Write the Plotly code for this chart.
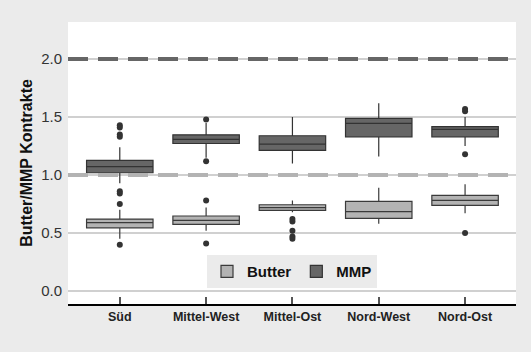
import plotly.graph_objects as go

regions = ["Süd", "Mittel-West", "Mittel-Ost", "Nord-West", "Nord-Ost"]

# Butter box statistics
butter_q1 = [0.545, 0.575, 0.696, 0.627, 0.739]
butter_median = [0.589, 0.610, 0.720, 0.684, 0.782]
butter_q3 = [0.620, 0.647, 0.744, 0.773, 0.825]
butter_low = [0.45, 0.52, 0.68, 0.58, 0.67]
butter_high = [0.70, 0.72, 0.78, 0.89, 0.92]
butter_out_x = ["Süd", "Süd", "Süd", "Süd", "Mittel-West", "Mittel-West",
                "Mittel-Ost", "Mittel-Ost", "Mittel-Ost", "Mittel-Ost", "Mittel-Ost", "Nord-Ost"]
butter_out_y = [0.86, 0.84, 0.75, 0.40, 0.78, 0.41,
                0.62, 0.60, 0.52, 0.47, 0.45, 0.50]

# MMP box statistics
mmp_q1 = [1.020, 1.272, 1.213, 1.330, 1.330]
mmp_median = [1.072, 1.307, 1.267, 1.446, 1.394]
mmp_q3 = [1.127, 1.347, 1.339, 1.489, 1.417]
mmp_low = [0.93, 1.15, 1.10, 1.16, 1.25]
mmp_high = [1.24, 1.45, 1.50, 1.62, 1.50]
mmp_out_x = ["Süd", "Süd", "Süd", "Süd", "Mittel-West", "Mittel-West",
             "Nord-Ost", "Nord-Ost", "Nord-Ost"]
mmp_out_y = [1.43, 1.41, 1.35, 1.33, 1.48, 1.12, 1.57, 1.55, 1.18]

ref_levels = [2.0, 1.0]
ref_colors = ["#666666", "#b3b3b3"]

y_ticks = [0.0, 0.5, 1.0, 1.5, 2.0]

fig = go.Figure()

for lvl, col in zip(ref_levels, ref_colors):
    fig.add_shape(type="line", xref="paper", yref="y", x0=0, x1=1, y0=lvl, y1=lvl,
                  line=dict(color=col, width=4, dash="20px,10px"), layer="above")

fig.add_trace(go.Box(
    name="Butter", x=regions, q1=butter_q1, median=butter_median, q3=butter_q3,
    lowerfence=butter_low, upperfence=butter_high, boxpoints=False,
    fillcolor="#b3b3b3", line=dict(color="#3a3a3a", width=1.2),
    whiskerwidth=0, width=0.77,
))
fig.add_trace(go.Box(
    name="MMP", x=regions, q1=mmp_q1, median=mmp_median, q3=mmp_q3,
    lowerfence=mmp_low, upperfence=mmp_high, boxpoints=False,
    fillcolor="#666666", line=dict(color="#333333", width=1.2),
    whiskerwidth=0, width=0.77,
))
fig.add_trace(go.Scatter(
    x=butter_out_x, y=butter_out_y, mode="markers", showlegend=False,
    marker=dict(color="#333333", size=6), hoverinfo="skip",
))
fig.add_trace(go.Scatter(
    x=mmp_out_x, y=mmp_out_y, mode="markers", showlegend=False,
    marker=dict(color="#333333", size=6), hoverinfo="skip",
))

fig.update_layout(
    width=531, height=352,
    margin=dict(l=68, r=15, t=22, b=48),
    paper_bgcolor="#ebebeb", plot_bgcolor="white",
    boxmode="overlay",
    font=dict(family="Liberation Sans, Arial, sans-serif", color="#222222"),
    legend=dict(orientation="h", x=0.5, xanchor="center", y=0.115, yanchor="middle",
                bgcolor="#ebebeb", font=dict(size=15, weight="bold", color="#111111"),
                itemwidth=30, traceorder="normal"),
    xaxis=dict(
        range=[-0.6, 4.59], showgrid=False, showline=True, linecolor="#000000", linewidth=1.5,
        ticks="inside", ticklen=7, tickcolor="#555555", tickwidth=1.5,
        tickfont=dict(size=12.5, weight="bold", color="#222222"),
        zeroline=False, fixedrange=True,
    ),
    yaxis=dict(
        range=[-0.112, 2.32], tickvals=y_ticks, ticktext=["0.0", "0.5", "1.0", "1.5", "2.0"],
        showgrid=True, gridcolor="#d0d0d0", gridwidth=1.5, zeroline=False,
        showline=False, ticks="", tickfont=dict(size=15, color="#333333"),
        ticklabelstandoff=5,
        title=dict(text="Butter/MMP Kontrakte", font=dict(size=16, weight="bold", color="#111111"),
                   standoff=4),
        fixedrange=True,
    ),
)

fig.write_html("out.html")
